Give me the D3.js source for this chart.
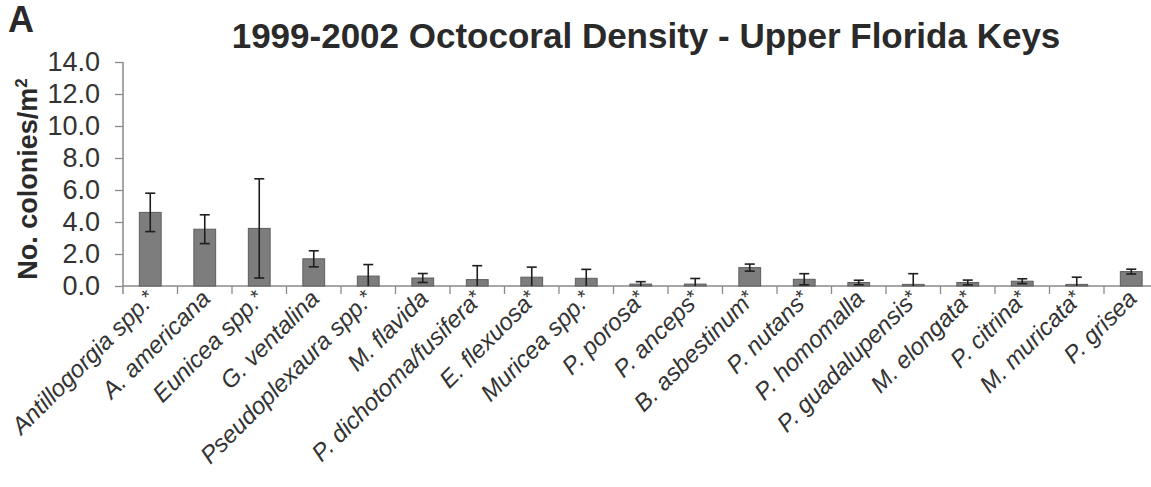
<!DOCTYPE html>
<html>
<head>
<meta charset="utf-8">
<script src="https://cdn.jsdelivr.net/npm/d3@7"></script>
<style>
  html, body { margin: 0; padding: 0; background: #fff; }
  svg { display: block; font-family: "Liberation Sans", Arial, sans-serif; }
</style>
</head>
<body>
<svg id="viz" width="1151" height="487"></svg>
<script>
// bar chart: octocoral density per species, mean +/- error

// species on x axis (in order)
const species = [
  "Antillogorgia spp.", "A. americana", "Eunicea spp.", "G. ventalina",
  "Pseudoplexaura spp.", "M. flavida", "P. dichotoma/fusifera", "E. flexuosa",
  "Muricea spp.", "P. porosa", "P. anceps", "B. asbestinum", "P. nutans",
  "P. homomalla", "P. guadalupensis", "M. elongata", "P. citrina",
  "M. muricata", "P. grisea"
];
// which labels carry the superscript asterisk
const starred = [1, 0, 1, 0, 1, 0, 1, 1, 1, 1, 1, 1, 1, 0, 1, 1, 1, 1, 0];
// mean colonies per m2
const density = [4.6, 3.55, 3.6, 1.7, 0.62, 0.5, 0.4, 0.55, 0.48, 0.12, 0.12, 1.15, 0.42, 0.22, 0.1, 0.22, 0.3, 0.1, 0.9];
// error bar half-length
const errors = [1.2, 0.9, 3.1, 0.5, 0.72, 0.28, 0.87, 0.63, 0.56, 0.15, 0.35, 0.22, 0.35, 0.14, 0.67, 0.15, 0.15, 0.45, 0.15];
// y ticks
const yTicks = [0, 2, 4, 6, 8, 10, 12, 14];

const svg = d3.select("#viz");

const plot = { left: 123, top: 62, bottom: 286, step: 54.5 };
const axisColor = "#8a8a8a";

const x = d3.scaleBand()
  .domain(species)
  .range([plot.left, plot.left + plot.step * species.length])
  .padding(0);

const y = d3.scaleLinear()
  .domain([0, 14])
  .range([plot.bottom, plot.top]);

const barW = x.bandwidth() * 0.4;

// panel letter
svg.append("text")
  .attr("x", 8).attr("y", 32)
  .attr("font-size", 36).attr("font-weight", "bold")
  .attr("fill", "#2a2a2a")
  .text("A");

// title
svg.append("text")
  .attr("x", 646).attr("y", 48)
  .attr("text-anchor", "middle")
  .attr("font-size", 35).attr("font-weight", "bold")
  .attr("fill", "#2a2a2a")
  .text("1999-2002 Octocoral Density - Upper Florida Keys");

// y axis
const yAxis = d3.axisLeft(y)
  .tickValues(yTicks)
  .tickFormat(d3.format(".1f"))
  .tickSize(8)
  .tickPadding(15);

const yG = svg.append("g")
  .attr("transform", `translate(${plot.left},0)`)
  .call(yAxis)
  .attr("font-size", 27)
  .attr("font-family", "Liberation Sans, Arial, sans-serif");
yG.select(".domain").remove();
yG.selectAll(".tick line").attr("stroke", axisColor).attr("stroke-width", 1.3);
yG.selectAll(".tick text")
  .attr("font-size", 27)
  .attr("fill", "#333");

// y axis line (runs a little below zero like the original)
svg.append("line")
  .attr("x1", plot.left).attr("x2", plot.left)
  .attr("y1", plot.top).attr("y2", plot.bottom + 8)
  .attr("stroke", axisColor).attr("stroke-width", 1.5);

// y label
svg.append("text")
  .attr("transform", `translate(37,${(plot.top + plot.bottom) / 2 + 5}) rotate(-90)`)
  .attr("text-anchor", "middle")
  .attr("font-size", 27).attr("font-weight", "bold")
  .attr("fill", "#2a2a2a")
  .call(t => {
    t.append("tspan").text("No. colonies/m");
    t.append("tspan").attr("font-size", 17).attr("dy", -10).text("2");
  });

// x axis: ticks at category boundaries
const xG = svg.append("g");
xG.append("line")
  .attr("x1", plot.left).attr("x2", x.range()[1])
  .attr("y1", plot.bottom).attr("y2", plot.bottom)
  .attr("stroke", axisColor).attr("stroke-width", 1.5);
xG.selectAll("line.tick")
  .data(species)
  .join("line")
  .attr("class", "tick")
  .attr("x1", d => x(d) + x.bandwidth()).attr("x2", d => x(d) + x.bandwidth())
  .attr("y1", plot.bottom).attr("y2", plot.bottom + 8)
  .attr("stroke", axisColor).attr("stroke-width", 1.3);

// bars
const rows = species.map((s, i) => ({ name: s, v: density[i], e: errors[i], star: starred[i] }));

svg.append("g")
  .selectAll("rect")
  .data(rows)
  .join("rect")
  .attr("x", d => x(d.name) + (x.bandwidth() - barW) / 2)
  .attr("y", d => y(d.v))
  .attr("width", barW)
  .attr("height", d => y(0) - y(d.v))
  .attr("fill", "#7d7d7d")
  .attr("stroke", "#5e5e5e")
  .attr("stroke-width", 1);

// error bars (clipped at zero)
const errG = svg.append("g").attr("stroke", "#1e1e1e").attr("stroke-width", 1.6);
rows.forEach(d => {
  const cx = x(d.name) + x.bandwidth() / 2;
  const hi = y(d.v + d.e);
  const lo = y(Math.max(0, d.v - d.e));
  errG.append("line").attr("x1", cx).attr("x2", cx).attr("y1", hi).attr("y2", lo);
  errG.append("line").attr("x1", cx - 5).attr("x2", cx + 5).attr("y1", hi).attr("y2", hi);
  if (d.v - d.e > 0) {
    errG.append("line").attr("x1", cx - 5).attr("x2", cx + 5).attr("y1", lo).attr("y2", lo);
  }
});

// category labels, rotated -45
const labG = svg.append("g");
rows.forEach(d => {
  const cx = x(d.name) + x.bandwidth() / 2;
  const t = labG.append("text")
    .attr("transform", `translate(${cx + 7},${plot.bottom + 14}) rotate(-45)`)
    .attr("text-anchor", "end")
    .attr("font-size", 24)
    .attr("font-style", "italic")
    .attr("fill", "#333");
  t.append("tspan").text(d.name);
  if (d.star) {
    t.append("tspan").attr("font-style", "normal").attr("font-size", 20).attr("dy", -3).text("*");
  }
});
</script>
</body>
</html>
